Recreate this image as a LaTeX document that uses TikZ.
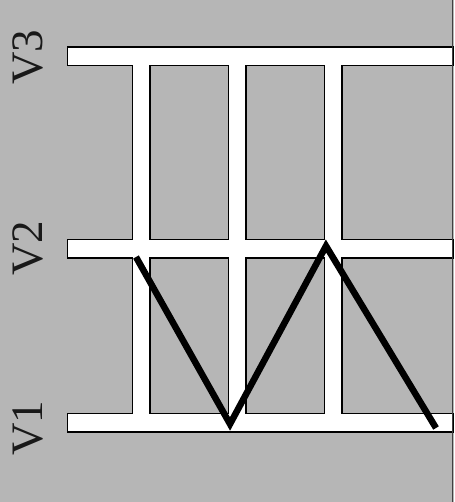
\documentclass[tikz,border=0pt]{standalone}
\usepackage{fontspec}
\setmainfont{Liberation Serif}
\definecolor{bggray}{RGB}{182,182,182}
\begin{document}
\begin{tikzpicture}[x=1pt,y=-1pt,
  barline/.style={draw=black,line width=3pt},
  barfill/.style={fill=white},
  lab/.style={rotate=90,font=\fontsize{45}{45}\selectfont,text=black!90,inner sep=0pt},
  zig/.style={draw=black,line width=6.5pt,line join=miter,line cap=butt}]
\fill[bggray] (0,0) rectangle (454,502);
\useasboundingbox (0,0) rectangle (454,502);
% outlines of the bars
\foreach \a/\b/\c/\d in {68/48/452/65, 68/240/452/257, 68/414/452/431,
                         133/48/149/431, 229/48/245/431, 325/48/341/431}
  \draw[barline] (\a,\b) rectangle (\c,\d);
% white interiors (union)
\foreach \a/\b/\c/\d in {68/48/452/65, 68/240/452/257, 68/414/452/431,
                         133/48/149/431, 229/48/245/431, 325/48/341/431}
  \fill[barfill] (\a,\b) rectangle (\c,\d);
% right border line
\draw[black!75,line width=1.3pt] (452.6,0) -- (452.6,502);
% zigzag
\coordinate (A) at (136,257);
\coordinate (B) at (230,424);
\coordinate (C) at (326,246);
\coordinate (D) at (436,428);
\draw[zig] (A) -- (B) -- (C) -- (D);
% labels
\node[lab] (v3) at (28,57) {V3};
\node[lab] (v2) at (28,248) {V2};
\node[lab] (v1) at (28,428) {V1};
\end{tikzpicture}
\end{document}
